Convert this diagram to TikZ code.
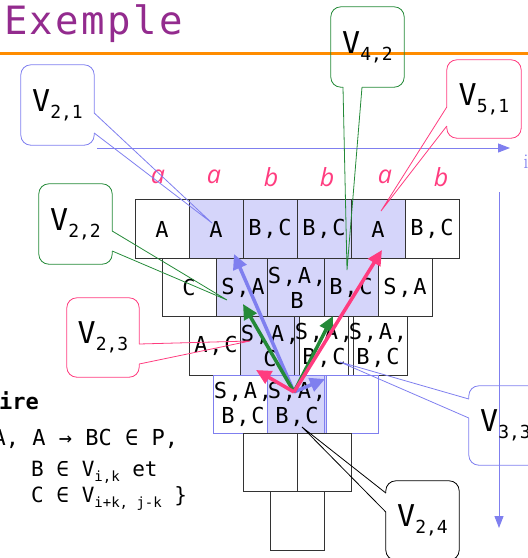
\documentclass[tikz,border=0pt]{standalone}
\usepackage{fontspec}
\usetikzlibrary{arrows.meta,calc}
\newfontfamily\mono{DejaVu Sans Mono}
\newfontfamily\cellfont[LetterSpace=8]{DejaVu Sans Mono}
\newfontfamily\titlefont[LetterSpace=6]{DejaVu Sans Mono}
\newfontfamily\itfont{Open Sans}
\definecolor{titlec}{RGB}{147,43,142}
\definecolor{orangec}{RGB}{255,140,0}
\definecolor{lav}{RGB}{127,127,239}
\definecolor{shade}{RGB}{213,213,250}
\definecolor{pinkc}{RGB}{255,60,127}
\definecolor{greenc}{RGB}{36,138,56}
\newcommand\vlab[1]{{\fontsize{30}{30}\selectfont V}\raisebox{-7pt}{\fontsize{18}{18}\selectfont #1}}
\newcommand\subx[1]{\raisebox{-5pt}{\fontsize{14}{14}\selectfont #1}}
\begin{document}
\begin{tikzpicture}[x=1pt,y=-1pt,
 cellbox/.style={draw=black!80, line width=0.9pt, minimum width=54pt, minimum height=58.4pt,
   inner sep=0pt, align=center, font=\cellfont\fontsize{22}{25}\selectfont},
 shaded/.style={fill=shade},
 rowfour/.style={draw=lav},
 calloutbox/.style={minimum width=73pt, minimum height=80pt, inner sep=0pt, font=\mono},
 tailline/.style={line width=0.8pt},
 bigarrow/.style={line width=3.5pt, -{Triangle[length=15pt,width=14pt]}},
 axisarrow/.style={lav, line width=1pt, -{Triangle[length=12pt,width=9pt]}},
 letter/.style={text=pinkc, font=\itfont\itshape\fontsize{25}{25}\selectfont},
 bodytext/.style={anchor=base west, inner sep=0pt, font=\mono\fontsize{22}{22}\selectfont},
]
\useasboundingbox (0,0) rectangle (528,558);

% title
\node[anchor=base west, inner sep=0pt, text=titlec, font=\titlefont\fontsize{39}{39}\selectfont] (title) at (4,34) {Exemple};
\draw[orangec, line width=3pt] (0,53) -- (528,53);

% grid row 1
\node[cellbox] (c11) at (162,229) {A};
\node[cellbox,shaded] (c21) at (216,229) {A};
\node[cellbox,shaded] (c31) at (270,229) {B,C};
\node[cellbox,shaded] (c41) at (324,229) {B,C};
\node[cellbox,shaded] (c51) at (378,229) {A};
\node[cellbox] (c61) at (432,229) {B,C};
% row 2
\node[cellbox] (c12) at (189,287.4) {C};
\node[cellbox,shaded] (c22) at (243,287.4) {S,A};
\node[cellbox,shaded] (c32) at (297,287.4) {S,A,\\B};
\node[cellbox,shaded] (c42) at (351,287.4) {B,C};
\node[cellbox] (c52) at (405,287.4) {S,A};
% row 3
\node[cellbox] (c13) at (216,345.8) {A,C};
\node[cellbox,shaded] (c23) at (270,345.8) {S,A,\\C};
\node[cellbox] (c33) at (324,345.8) {S,A,\\B,C};
\node[cellbox] (c43) at (378,345.8) {S,A,\\B,C};
% row 4
\node[cellbox,rowfour] (c14) at (243,404.2) {S,A,\\B,C};
\node[cellbox,shaded,rowfour] (c24) at (297,404.2) {S,A,\\B,C};
\node[cellbox,rowfour] (c34) at (351,404.2) {};
% row 5
\node[cellbox] (c15) at (270,462.6) {};
\node[cellbox] (c25) at (324,462.6) {};
% row 6
\node[cellbox] (c16) at (297,521) {};

% letters
\node[letter] (l1) at (158,177) {a};
\node[letter] (l2) at (214,177) {a};
\node[letter] (l3) at (271,177) {b};
\node[letter] (l4) at (327,177) {b};
\node[letter] (l5) at (385,177) {a};
\node[letter] (l6) at (441,177) {b};

% axes
\coordinate (ax0) at (97,148);
\coordinate (ax1) at (510,148);
\coordinate (ay0) at (499,192);
\coordinate (ay1) at (499,528);
\draw[axisarrow] (ax0) -- (ax1);
\draw[axisarrow] (ay0) -- (ay1);
\node[text=lav, font=\fontsize{21}{21}\selectfont, inner sep=0pt] (ilab) at (526,162) {i};

% text block
\node[bodytext, font=\mono\bfseries\fontsize{22}{22}\selectfont] (t0) at (-1,409) {ire};
\node[bodytext] (t1) at (-7.5,445) {A, A → BC ∈ P,};
\node[bodytext, font=\mono\fontsize{21}{21}\selectfont] (t2) at (31,476) {B ∈ V\subx{i,k} et};
\node[bodytext, font=\mono\fontsize{21}{21}\selectfont] (t3) at (31,502) {C ∈ V\subx{i+k, j-k} \}};

% callouts
\node[calloutbox] (v21) at (57.5,105) {\vlab{2,1}};
\node[calloutbox] (v22) at (75.5,224) {\vlab{2,2}};
\node[calloutbox, minimum width=72pt, minimum height=79pt] (v23) at (103,337.5) {\vlab{2,3}};
\node[calloutbox] (v42) at (367.5,47) {\vlab{4,2}};
\node[calloutbox, minimum width=74pt, minimum height=78pt] (v51) at (484,99) {\vlab{5,1}};
\node[calloutbox, minimum height=79pt] (v33) at (505.5,425.5) {\vlab{3,3}};
\node[calloutbox, minimum height=79pt] (v24) at (422.5,520.5) {\vlab{2,4}};

\coordinate (p21) at (212,223);
\coordinate (p22) at (227,300);
\coordinate (p23) at (250,341);
\coordinate (p42) at (347,270);
\coordinate (p51) at (381,211);
\coordinate (p33) at (340,362);
\coordinate (p24) at (302,427);

% V2,1 (tail on right)
\draw[lav, tailline, rounded corners=10pt] (v21.east |- 0,113) -- (v21.north east) -- (v21.north west) -- (v21.south west) -- (v21.south east) -- (v21.east |- 0,133);
\draw[lav, tailline] (v21.east |- 0,133) -- (p21) -- (v21.east |- 0,113);
% V2,2
\draw[greenc, tailline, rounded corners=10pt] (v22.east |- 0,231) -- (v22.north east) -- (v22.north west) -- (v22.south west) -- (v22.south east) -- (v22.east |- 0,251);
\draw[greenc, tailline] (v22.east |- 0,251) -- (p22) -- (v22.east |- 0,231);
% V2,3
\draw[pinkc, tailline, rounded corners=10pt] (v23.east |- 0,344) -- (v23.north east) -- (v23.north west) -- (v23.south west) -- (v23.south east) -- (v23.east |- 0,364);
\draw[pinkc, tailline] (v23.east |- 0,364) -- (p23) -- (v23.east |- 0,344);
% V4,2 (tail on bottom)
\draw[greenc, tailline, rounded corners=10pt] (343,0 |- v42.south) -- (v42.south west) -- (v42.north west) -- (v42.north east) -- (v42.south east) -- (362,0 |- v42.south);
\draw[greenc, tailline] (362,0 |- v42.south) -- (p42) -- (343,0 |- v42.south);
% V5,1 (tail on left)
\draw[pinkc, tailline, rounded corners=10pt] (v51.west |- 0,107) -- (v51.north west) -- (v51.north east) -- (v51.south east) -- (v51.south west) -- (v51.west |- 0,126);
\draw[pinkc, tailline] (v51.west |- 0,126) -- (p51) -- (v51.west |- 0,107);
% V3,3
\draw[lav, tailline, rounded corners=10pt] (v33.west |- 0,399) -- (v33.north west) -- (v33.north east) -- (v33.south east) -- (v33.south west) -- (v33.west |- 0,418);
\draw[lav, tailline] (v33.west |- 0,418) -- (p33) -- (v33.west |- 0,399);
% V2,4
\draw[black, tailline, rounded corners=10pt] (v24.west |- 0,493) -- (v24.north west) -- (v24.north east) -- (v24.south east) -- (v24.south west) -- (v24.west |- 0,512);
\draw[black, tailline] (v24.west |- 0,512) -- (p24) -- (v24.west |- 0,493);

% big arrows
\coordinate (vx) at (294,392);
\coordinate (a21) at (234,254);
\coordinate (a33) at (325,379);
\coordinate (a22) at (243,304);
\coordinate (a42) at (333,316);
\coordinate (a23) at (256,370);
\coordinate (a51) at (382,250);
\draw[bigarrow, lav] (vx) -- (a21);
\draw[bigarrow, lav] (vx) -- (a33);
\draw[bigarrow, greenc] (vx) -- (a22);
\draw[bigarrow, greenc] (vx) -- (a42);
\draw[bigarrow, pinkc] (vx) -- (a23);
\draw[bigarrow, pinkc] (vx) -- (a51);
\end{tikzpicture}
\end{document}
